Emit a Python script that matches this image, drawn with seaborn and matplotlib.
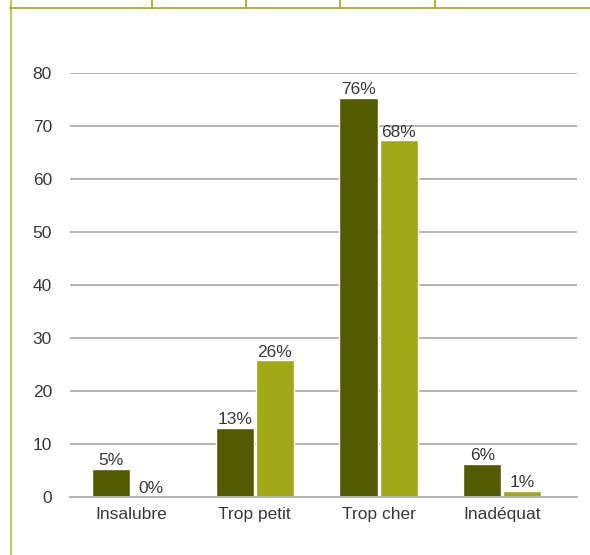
import pandas as pd
import matplotlib.pyplot as plt
import matplotlib.lines as mlines
import seaborn as sns

categories = ['Insalubre', 'Trop petit', 'Trop cher', 'Inadéquat']
series_names = ['A', 'B']
values_a = [5.3, 13.0, 75.3, 6.2]
values_b = [0.0, 25.8, 67.3, 1.1]
labels_a = ['5%', '13%', '76%', '6%']
labels_b = ['0%', '26%', '68%', '1%']
yticks = [0, 10, 20, 30, 40, 50, 60, 70, 80]

colors = ['#545a00', '#a0a817']

data = pd.DataFrame({
    'cat': categories * 2,
    'serie': [series_names[0]] * 4 + [series_names[1]] * 4,
    'val': values_a + values_b,
})

sns.set_style('white')
plt.rcParams['font.family'] = ['Liberation Sans', 'DejaVu Sans']

fig = plt.figure(figsize=(5.9, 5.55), dpi=100)
ax = fig.add_axes([0.1186, 0.1045, 0.8594, 0.764])

sns.barplot(data=data, x='cat', y='val', hue='serie', palette=colors,
            width=0.647, gap=0.05, ax=ax, legend=False, saturation=1)

for cont, labs in zip(ax.containers, [labels_a, labels_b]):
    ax.bar_label(cont, labels=labs, padding=0.5, fontsize=12.5, color='#383838')

ax.set_ylim(0, 80)
ax.set_yticks(yticks)
ax.set_xlim(-0.493, 3.604)
ax.yaxis.grid(True, color='#b3b3b3', linewidth=1.4)
ax.set_axisbelow(True)
for s in ['top', 'right', 'left']:
    ax.spines[s].set_visible(False)
ax.spines['bottom'].set_color('#b3b3b3')
ax.spines['bottom'].set_linewidth(1.4)
ax.tick_params(axis='both', length=0, labelsize=12.5, colors='#383838')
ax.tick_params(axis='y', pad=13)
ax.tick_params(axis='x', pad=7)
ax.set_xlabel('')
ax.set_ylabel('')

# cadre autour du graphique
W, H = 590, 555
fig.add_artist(mlines.Line2D([10.8 / W, 10.8 / W], [0, 1], color='#c3c865', linewidth=1.6,
                             transform=fig.transFigure))
fig.add_artist(mlines.Line2D([10 / W, 1], [1 - 7.5 / H, 1 - 7.5 / H], color='#a6ad3a',
                             linewidth=1.3, transform=fig.transFigure))
for x in [152, 246, 340, 435]:
    fig.add_artist(mlines.Line2D([x / W, x / W], [1 - 7.5 / H, 1], color='#a6ad3a',
                                 linewidth=1.3, transform=fig.transFigure))

fig.savefig('out.png', dpi=100)
